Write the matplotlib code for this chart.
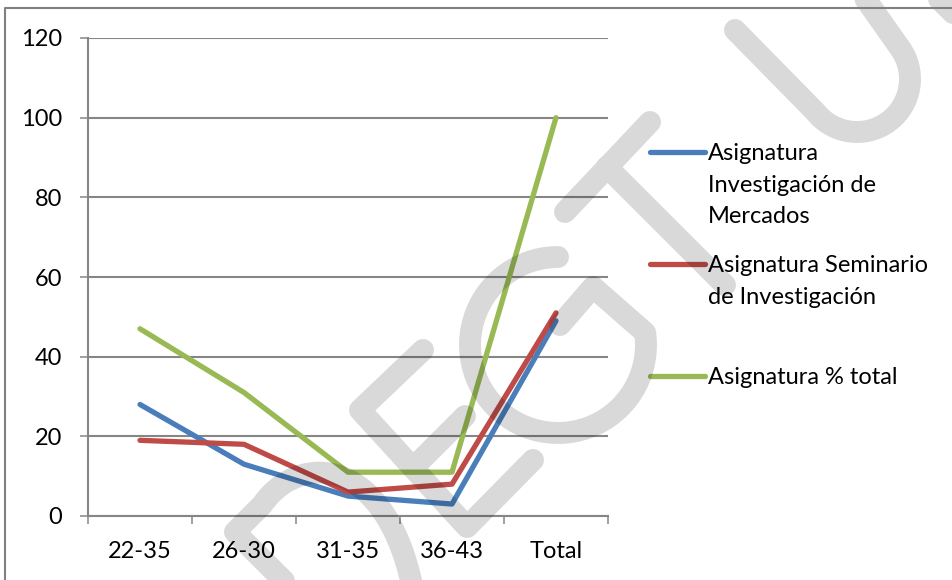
import numpy as np
import matplotlib.pyplot as plt
from matplotlib.lines import Line2D
from matplotlib.path import Path
from matplotlib.patches import PathPatch
from matplotlib.transforms import Affine2D

plt.rcParams['font.family'] = ['Lato', 'DejaVu Sans']

# datos por grupo de edad
edades = ['22-35', '26-30', '31-35', '36-43', 'Total']
inv_mercados = [28, 13, 5, 3, 49]
seminario = [19, 18, 6, 8, 51]
pct_total = [47, 31, 11, 11, 100]

nombres = ['Asignatura\nInvestigación de\nMercados',
           'Asignatura Seminario\nde Investigación',
           'Asignatura % total']
colores = ['#4A7EBB', '#BE4B48', '#98B954']
valores = [inv_mercados, seminario, pct_total]

W, H = 953, 580
fig = plt.figure(figsize=(W / 100, H / 100), dpi=100)
# coordenadas en pixeles (origen arriba a la izquierda)
px = Affine2D().scale(1 / W, -1 / H).translate(0, 1) + fig.transFigure

gris = '#868686'
ax = fig.add_axes([88 / W, 1 - 516 / H, 520 / W, 478 / H])
x = np.arange(len(edades))
for vals, color in zip(valores, colores):
    ax.plot(x, vals, color=color, lw=3.8, solid_capstyle='round',
            solid_joinstyle='round', zorder=3)

ax.set_xlim(-0.5, len(edades) - 0.5)
ax.set_ylim(0, 120)
ax.set_yticks(range(0, 121, 20))
ax.grid(axis='y', color=gris, lw=1.5)
ax.set_axisbelow(True)
ax.set_xticks(x)
ax.set_xticklabels(edades)
ax.set_xticks(np.arange(-0.5, len(edades)), minor=True)
ax.tick_params(axis='x', which='major', length=0, pad=18, labelsize=17)
ax.tick_params(axis='x', which='minor', length=5.8, width=1.1, color=gris)
ax.tick_params(axis='y', length=5.8, width=1.1, color=gris, pad=13, labelsize=17)
for s in ['top', 'right']:
    ax.spines[s].set_visible(False)
for s in ['left', 'bottom']:
    ax.spines[s].set_color(gris)
    ax.spines[s].set_linewidth(1.5)

# leyenda a la derecha
for nombre, color, yy in zip(nombres, colores, [152, 264, 376]):
    fig.add_artist(Line2D([650, 705], [yy, yy], transform=px, color=color,
                          lw=3.8, solid_capstyle='round'))
    fig.text(708, yy - 9, nombre, transform=px, va='top', ha='left',
             fontsize=17, linespacing=1.62)


# marca de agua
def arco(cx, cy, r, a0, a1, n=60):
    t = np.radians(np.linspace(a0, a1, n))
    return list(zip(cx + r * np.cos(t), cy + r * np.sin(t)))


def bezier(p0, p1, p2, p3, n=40):
    t = np.linspace(0, 1, n)[:, None]
    p0, p1, p2, p3 = map(np.array, (p0, p1, p2, p3))
    pts = (1 - t) ** 3 * p0 + 3 * (1 - t) ** 2 * t * p1 + 3 * (1 - t) * t ** 2 * p2 + t ** 3 * p3
    return [tuple(p) for p in pts]


trazos = [
    [(305, 602), (235, 532), (262, 505)] + bezier((262, 505), (300, 450), (390, 455), (415, 600)),
    [(423, 350), (360, 410), (467, 527), (533, 460)],
    [(413, 468), (465, 416)],
    arco(558, 345, 88, -90, -368) + [(593, 287), (560, 325)],
    [(565, 212), (650, 122)],
    [(607, 167), (725, 285)],
    [(735, 30)] + arco(857, 79, 53, 141.5, -35) + [(845, -30)],
    [(935, -5), (965, 25)],
]
verts, codes = [], []
for tr in trazos:
    verts += tr
    codes += [Path.MOVETO] + [Path.LINETO] * (len(tr) - 1)
marca = PathPatch(Path(verts, codes), transform=px, fill=False, edgecolor='black',
                  alpha=0.15, lw=15.8, capstyle='round', joinstyle='round', zorder=5)
fig.add_artist(marca)

# borde exterior
fig.add_artist(Line2D([5, 5, W + 5], [H + 5, 8, 8], transform=px, color='#808080',
                      lw=1.5, zorder=6))

fig.savefig('out.png', dpi=100)
